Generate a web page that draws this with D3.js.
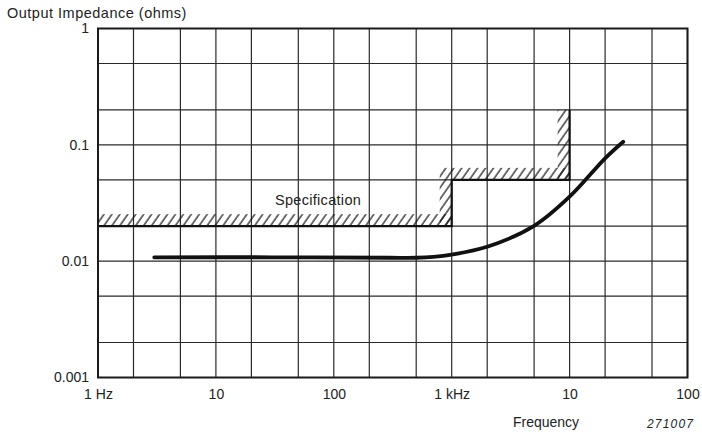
<!DOCTYPE html>
<html>
<head>
<meta charset="utf-8">
<script src="https://cdn.jsdelivr.net/npm/d3@7"></script>
<style>
  body { margin: 0; background: #fff; }
  svg { display: block; font-family: "Liberation Sans", Arial, sans-serif; }
</style>
</head>
<body>
<svg id="chart"></svg>
<script>
// Axis ticks and labels
const xTicks = [1, 10, 100, 1000, 10000, 100000];
const xTickLabels = ['1 Hz', '10', '100', '1 kHz', '10', '100'];
const yTicks = [0.001, 0.01, 0.1, 1];
const yTickLabels = ['0.001', '0.01', '0.1', '1'];

// Measured output impedance (ohms) vs frequency (Hz)
const freq = [3, 30, 300, 500, 700, 1000, 2000, 5000, 10000, 20000, 28500];
const impedance = [0.0108, 0.0108, 0.0107, 0.0107, 0.0109, 0.0114, 0.0133, 0.0201, 0.0358, 0.0766, 0.1064];

// Specification limit (step line)
const specFreq = [1, 1000, 1000, 10000, 10000];
const specLimit = [0.02, 0.02, 0.05, 0.05, 0.2];

const W = 702, H = 435;
const margin = { top: 28.5, right: 14.5, bottom: 57.5, left: 98 };
const width = W - margin.left - margin.right;
const height = H - margin.top - margin.bottom;

const root = d3.select('#chart').attr('width', W).attr('height', H);

// hatch pattern for the spec band
root.append('defs').append('pattern')
  .attr('id', 'hatch')
  .attr('patternUnits', 'userSpaceOnUse')
  .attr('width', 6.5).attr('height', 6.5)
  .attr('patternTransform', 'rotate(35)')
  .append('line')
  .attr('x1', 1).attr('y1', 0).attr('x2', 1).attr('y2', 6.5)
  .attr('stroke', '#111').attr('stroke-width', 1.2);

const svg = root.append('g')
  .attr('transform', `translate(${margin.left},${margin.top})`);

const x = d3.scaleLog().domain([1, 100000]).range([0, width]);
const y = d3.scaleLog().domain([0.001, 1]).range([height, 0]);

// keep only 1-2-5 ticks for the grid
const is125 = d => [1, 2, 5].includes(Math.round(d / Math.pow(10, Math.floor(Math.log10(d) + 1e-9))));

// Grid lines
svg.append('g')
  .selectAll('line')
  .data(x.ticks().filter(is125))
  .enter().append('line')
  .attr('x1', d => x(d)).attr('x2', d => x(d))
  .attr('y1', 0).attr('y2', height)
  .attr('stroke', '#2a2a2a').attr('stroke-width', 1.2);

svg.append('g')
  .selectAll('line')
  .data(y.ticks().filter(is125))
  .enter().append('line')
  .attr('y1', d => y(d)).attr('y2', d => y(d))
  .attr('x1', 0).attr('x2', width)
  .attr('stroke', '#2a2a2a').attr('stroke-width', 1.2);

// Spec hatch bands (above / left of the limit line)
const band = 12;
const bands = [];
for (let i = 0; i < specFreq.length - 1; i++) {
  const x0 = x(specFreq[i]), x1 = x(specFreq[i + 1]);
  const y0 = y(specLimit[i]), y1 = y(specLimit[i + 1]);
  if (y0 === y1) {
    bands.push({ x: i === 0 ? x0 : x0 - band, y: y0 - band, w: x1 - x0 + (i === 0 ? 0 : band), h: band });
  } else {
    bands.push({ x: x0 - band, y: y1, w: band, h: y0 - y1 });
  }
}
svg.append('g')
  .selectAll('rect')
  .data(bands)
  .enter().append('rect')
  .attr('x', d => d.x).attr('y', d => d.y)
  .attr('width', d => d.w).attr('height', d => d.h)
  .attr('fill', 'url(#hatch)');

// Spec line
const specData = specFreq.map((f, i) => ({ f, v: specLimit[i] }));
svg.append('path')
  .datum(specData)
  .attr('fill', 'none')
  .attr('stroke', '#111')
  .attr('stroke-width', 2.2)
  .attr('d', d3.line().x(d => x(d.f)).y(d => y(d.v)));

svg.append('text')
  .attr('x', 177)
  .attr('y', y(0.02) - 21)
  .attr('font-size', '14.5px')
  .attr('fill', '#222')
  .attr('letter-spacing', '0.3px')
  .text('Specification');

// Frame
svg.append('rect')
  .attr('x', 0).attr('y', 0)
  .attr('width', width).attr('height', height)
  .attr('fill', 'none')
  .attr('stroke', '#1a1a1a')
  .attr('stroke-width', 2);

// Impedance curve
const curveData = freq.map((f, i) => ({ f, v: impedance[i] }));
svg.append('path')
  .datum(curveData)
  .attr('fill', 'none')
  .attr('stroke', '#111')
  .attr('stroke-width', 3.8)
  .attr('stroke-linecap', 'round')
  .attr('d', d3.line().curve(d3.curveCatmullRom.alpha(0.5)).x(d => x(d.f)).y(d => y(d.v)));

// Axes
const xAxis = svg.append('g')
  .attr('transform', `translate(0,${height})`)
  .call(d3.axisBottom(x).tickValues(xTicks).tickSize(0).tickPadding(12)
    .tickFormat((d, i) => xTickLabels[i]));

const yAxis = svg.append('g')
  .call(d3.axisLeft(y).tickValues(yTicks).tickSize(0).tickPadding(9)
    .tickFormat((d, i) => yTickLabels[i]));

[xAxis, yAxis].forEach(a => {
  a.select('.domain').remove();
  a.selectAll('text')
    .attr('font-size', '14px')
    .attr('font-family', '"Liberation Sans", Arial, sans-serif')
    .attr('fill', '#222');
});

// Titles
root.append('text')
  .attr('x', 7).attr('y', 18)
  .attr('font-size', '14.5px')
  .attr('letter-spacing', '0.5px')
  .attr('fill', '#222')
  .text('Output Impedance (ohms)');

root.append('text')
  .attr('x', 546).attr('y', 427)
  .attr('text-anchor', 'middle')
  .attr('font-size', '14px')
  .attr('fill', '#222')
  .text('Frequency');

root.append('text')
  .attr('x', 647).attr('y', 428)
  .attr('font-size', '12px')
  .attr('font-style', 'italic')
  .attr('letter-spacing', '1.2px')
  .attr('fill', '#222')
  .text('271007');
</script>
</body>
</html>
